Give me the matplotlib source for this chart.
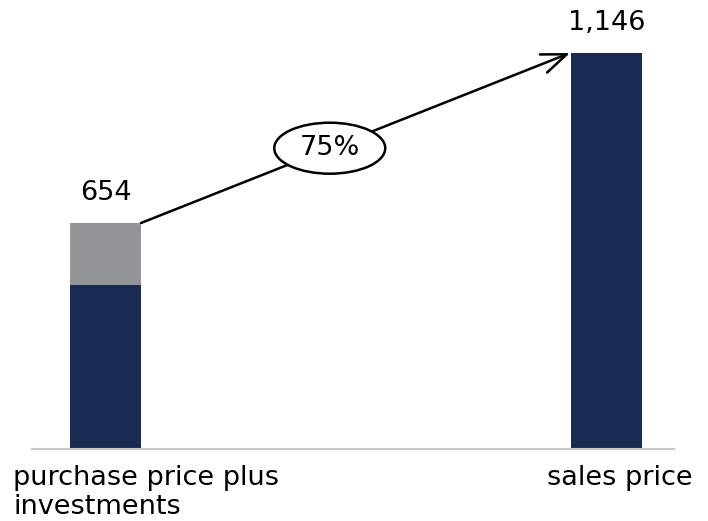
import matplotlib
matplotlib.use("Agg")
import matplotlib.pyplot as plt
from matplotlib.patches import Ellipse
from matplotlib.transforms import ScaledTranslation

categories = ["purchase price plus\ninvestments", "sales price"]
purchase_price = [475, 0]
investments = [179, 0]
sales_price = [0, 1146]
totals = [654, 1146]
total_labels = ["654", "1,146"]
growth_label = "75%"

navy = "#1a2b52"
gray = "#939598"

plt.rcParams['font.family'] = ['DejaVu Sans']

W, H = 708, 521
fig = plt.figure(figsize=(W / 100, H / 100), dpi=100)
x0, x1 = 32, 674
ybase = 449
ax = fig.add_axes([x0 / W, (H - ybase) / H, (x1 - x0) / W, ybase / H])

bw = 71 / 501
xs = [0, 1]
ax.bar(xs, purchase_price, width=bw, color=navy)
ax.bar(xs, investments, width=bw, bottom=purchase_price, color=gray)
ax.bar(xs, sales_price, width=bw, color=navy)

ax.set_xlim(-(105.5 - x0) / 501, 1 + (x1 - 606.5) / 501)
ax.set_ylim(0, 1146 * ybase / 396)

for s in ['top', 'right', 'left']:
    ax.spines[s].set_visible(False)
ax.spines['bottom'].set_color('#c8c8c8')
ax.spines['bottom'].set_linewidth(1.5)
ax.set_xticks([])
ax.set_yticks([])

for x, t, lab in zip(xs, totals, total_labels):
    ax.annotate(lab, (x, t), xytext=(0, 12), textcoords='offset points',
                ha='center', va='bottom', fontsize=19.5, color='black')

# arrow
start = (xs[0] + bw / 2, totals[0])
end = (xs[1] - bw / 2 - 0.002, totals[1])
ax.annotate('', xy=end, xytext=start,
            arrowprops=dict(arrowstyle='->,head_length=0.9,head_width=0.35',
                            color='black', lw=1.8, mutation_scale=20,
                            shrinkA=0, shrinkB=0))
f = 0.44
mx = start[0] + f * (end[0] - start[0])
my = start[1] + f * (end[1] - start[1])
tr = fig.dpi_scale_trans + ScaledTranslation(mx, my, ax.transData)
ax.add_patch(Ellipse((0, 0), 1.11, 0.51, transform=tr, fc='white',
                     ec='black', lw=1.8, zorder=5))
ax.text(mx, my, growth_label, ha='center', va='center', fontsize=19.5, zorder=6)

fig.text(13 / W, 1 - 465 / H, categories[0], ha='left', va='top', fontsize=19.5,
         linespacing=1.13)
fig.text(693 / W, 1 - 465 / H, categories[1], ha='right', va='top', fontsize=19.5)

fig.savefig('out.png', dpi=100)
